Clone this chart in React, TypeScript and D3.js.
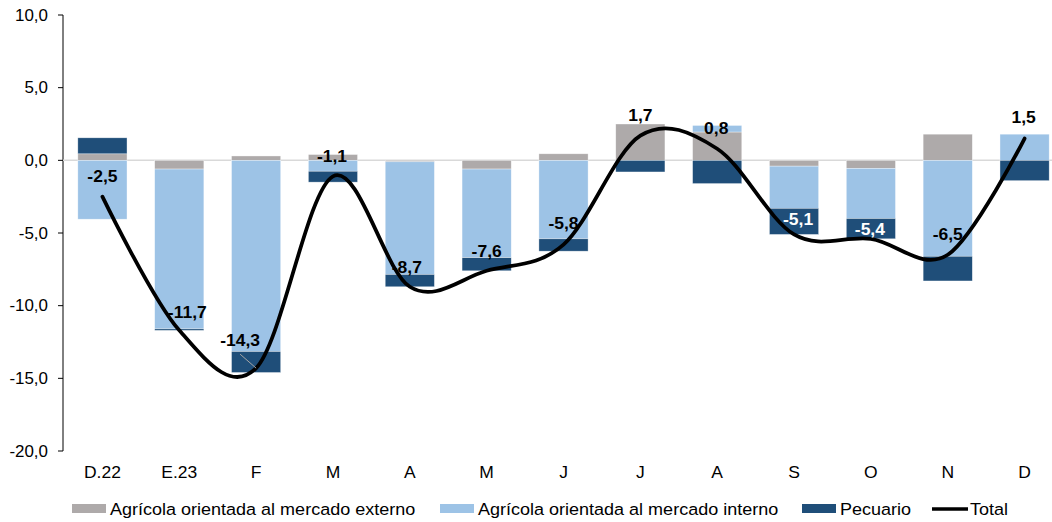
import React from 'react';
import * as d3 from 'd3';

// meses
const categories = ['D.22', 'E.23', 'F', 'M', 'A', 'M', 'J', 'J', 'A', 'S', 'O', 'N', 'D'];

// contribuciones por componente (puntos porcentuales)
const externo = [0.45, -0.6, 0.3, 0.4, -0.1, -0.6, 0.45, 2.5, 1.95, -0.4, -0.55, 1.8, 0];
const interno = [-4.05, -11.0, -13.15, -0.75, -7.75, -6.1, -5.4, 0, 0.45, -2.9, -3.45, -6.6, 1.8];
const pecuario = [1.1, -0.1, -1.45, -0.75, -0.85, -0.9, -0.85, -0.8, -1.6, -1.8, -1.4, -1.7, -1.4];
const total = [-2.5, -11.7, -14.3, -1.1, -8.7, -7.6, -5.8, 1.7, 0.8, -5.1, -5.4, -6.5, 1.5];

const yTicks = [10, 5, 0, -5, -10, -15, -20];

const seriesNames = [
  'Agrícola orientada al mercado externo',
  'Agrícola orientada al mercado interno',
  'Pecuario',
];
const colors = ['#AEAAAA', '#9DC3E6', '#1F4E79'];

// ajuste manual de etiquetas (como en Excel)
const labelDx = [0, 8, -16, -1, -3, 0, 0, 0, -1, 4, -1, 0, -1];
const labelDy = [-21, -18, -28, -20, -20, -20, -21.5, -21, -21, -15, -10, -20.5, -22];
const labelWhite = [false, false, false, false, false, false, false, false, false, true, true, false, false];

const W = 1052;
const H = 522;
const SX = 1.06; // estiramiento horizontal del texto
const FONT = '"Liberation Sans", Arial, sans-serif';

const fmt = (v: number) => v.toFixed(1).replace('.', ',');

const T: React.FC<{
  x: number;
  y: number;
  anchor?: string;
  size?: number;
  weight?: string;
  fill?: string;
  children: React.ReactNode;
}> = ({ x, y, anchor = 'start', size = 16, weight = 'normal', fill = '#000', children }) => (
  <text
    transform={`translate(${x},${y}) scale(${SX},1)`}
    textAnchor={anchor}
    fontSize={size}
    fontWeight={weight}
    fill={fill}
    fontFamily={FONT}
  >
    {children}
  </text>
);

const App: React.FC = () => {
  const x = d3
    .scaleBand<number>()
    .domain(categories.map((_, i) => i))
    .range([64, 1063])
    .paddingInner(0.36)
    .paddingOuter(0.18);

  const y = d3.scaleLinear().domain([-20, 10]).range([451, 15]);

  const rows = categories.map((_, i) => ({ i, ext: externo[i], int: interno[i], pec: pecuario[i] }));
  const stacked = d3
    .stack<{ i: number; ext: number; int: number; pec: number }>()
    .keys(['ext', 'int', 'pec'])
    .offset(d3.stackOffsetDiverging)(rows);

  const cx = (i: number) => x(i)! + x.bandwidth() / 2;

  const line = d3
    .line<number>()
    .x((_, i) => cx(i))
    .y(d => y(d))
    .curve(d3.curveCardinal.tension(0));

  const axisX = 63;

  // leyenda
  const legendY = 509;
  const legendItems = [
    { kind: 'rect', color: colors[0], label: seriesNames[0], x: 72 },
    { kind: 'rect', color: colors[1], label: seriesNames[1], x: 440 },
    { kind: 'rect', color: colors[2], label: seriesNames[2], x: 802 },
    { kind: 'line', color: '#000', label: 'Total', x: 932 },
  ];

  return (
    <svg width={W} height={H} style={{ position: 'absolute', left: 0, top: 0, background: '#fff' }}>
      {/* eje Y */}
      <line x1={axisX} x2={axisX} y1={y(10)} y2={y(-20)} stroke="#000" strokeWidth={1} />
      {yTicks.map(t => (
        <g key={t}>
          <line x1={axisX - 5} x2={axisX} y1={y(t)} y2={y(t)} stroke="#000" />
          <T x={48} y={y(t) + 5.8} anchor="end" size={16}>
            {fmt(t)}
          </T>
        </g>
      ))}

      {/* línea cero */}
      <line x1={axisX} x2={W} y1={y(0)} y2={y(0)} stroke="#D9D9D9" strokeWidth={1.5} />

      {/* barras apiladas */}
      {stacked.map((s, si) => (
        <g key={s.key} fill={colors[si]}>
          {s.map((d, i) => {
            const top = y(Math.max(d[0], d[1]));
            const h = Math.abs(y(d[0]) - y(d[1]));
            if (h < 0.1) return null;
            return (
              <rect
                key={i}
                x={x(i)}
                y={top}
                width={x.bandwidth()}
                height={h}
                stroke="#fff"
                strokeOpacity={0.6}
                strokeWidth={0.6}
              />
            );
          })}
        </g>
      ))}

      {/* total */}
      <path d={line(total) ?? ''} fill="none" stroke="#000" strokeWidth={3.75} strokeLinecap="round" />

      {/* línea guía de F */}
      <line x1={cx(2) - 16} y1={y(total[2]) - 14} x2={cx(2)} y2={y(total[2])} stroke="#A6A6A6" strokeWidth={1} />

      {/* etiquetas */}
      {total.map((v, i) => (
        <T
          key={i}
          x={cx(i) + labelDx[i]}
          y={y(v) + labelDy[i] + 6}
          anchor="middle"
          size={16.5}
          weight="bold"
          fill={labelWhite[i] ? '#fff' : '#000'}
        >
          {fmt(v)}
        </T>
      ))}

      {/* eje X etiquetas */}
      {categories.map((c, i) => (
        <T key={i} x={cx(i)} y={478} anchor="middle" size={16.5}>
          {c}
        </T>
      ))}

      {/* leyenda */}
      {legendItems.map((it, k) => (
        <g key={k}>
          {it.kind === 'rect' ? (
            <rect x={it.x} y={legendY - 5} width={34} height={9} fill={it.color} />
          ) : (
            <line x1={it.x} x2={it.x + 36} y1={legendY} y2={legendY} stroke="#000" strokeWidth={3.5} />
          )}
          <T x={it.x + 38} y={legendY + 6} size={17}>
            {it.label}
          </T>
        </g>
      ))}
    </svg>
  );
};

export default App;
